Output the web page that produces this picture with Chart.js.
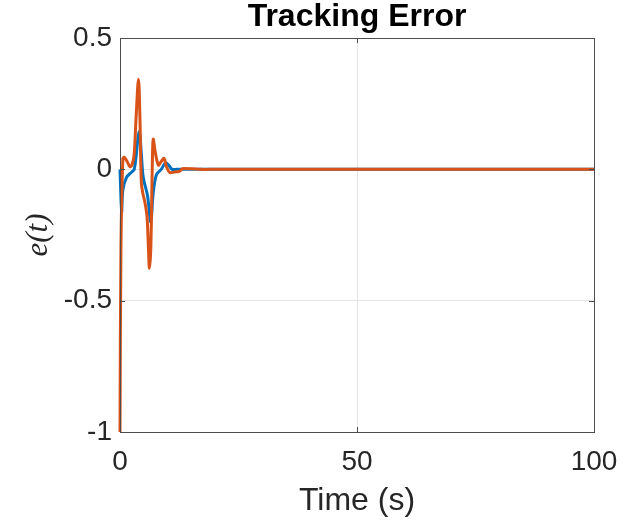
<!DOCTYPE html>
<html>
<head>
<meta charset="utf-8">
<script src="https://cdn.jsdelivr.net/npm/chart.js@4"></script>
<style>
  body { margin: 0; background: #fff; }
  #wrap { width: 635px; height: 522px; }
</style>
</head>
<body>
<div id="wrap"><canvas id="chart-1" width="635" height="522"></canvas></div>
<script>
/************************ data ******************************************************/

const tBlue = [0, 0.35, 0.6, 1.4, 2.5, 3.0, 3.4, 3.8, 4.1, 4.5, 4.9, 5.8, 6.5, 7.0, 7.7, 8.7, 9.6, 10.3, 11, 12, 20, 50, 100];
const eBlue = [0, -0.16, -0.08, -0.03, -0.01, 0.0, 0.05, 0.12, 0.143, 0.06, -0.03, -0.1, -0.2, -0.09, -0.02, 0.0, 0.025, 0.015, 0.0, 0.0, 0, 0, 0];

const tOrange = [0, 0.2, 0.6, 0.9, 1.5, 2.1, 2.6, 3.0, 3.4, 3.9, 4.2, 4.5, 4.8, 5.3, 5.7, 6.0, 6.2, 6.5, 6.8, 7.0, 7.4, 8.1, 8.7, 9.3, 9.8, 10.5, 11.5, 12.5, 13.2, 15, 17, 20, 50, 100];
const eOrange = [-1, -0.3, 0.04, 0.046, 0.03, 0.01, 0.02, 0.06, 0.2, 0.343, 0.2, -0.05, -0.09, -0.13, -0.18, -0.3, -0.377, -0.3, 0.0, 0.114, 0.07, 0.016, 0.03, 0.042, 0.01, -0.012, -0.01, -0.008, 0.002, 0.002, 0, 0, 0, 0];

const xTicks = [0, 50, 100];
const yTicks = [-1, -0.5, 0, 0.5];

const textColor = "#262626";
const sans = "'Liberation Sans', Arial, Helvetica, sans-serif";

/************************* box + inner tick marks ******************************/
const boxPlugin = {
  id: "box",
  afterDatasetsDraw(chart) {
    const { ctx, chartArea: a, scales } = chart;
    ctx.save();
    ctx.strokeStyle = "#4d4d4d";
    ctx.lineWidth = 1;
    ctx.beginPath();
    xTicks.forEach((v) => {
      const px = Math.round(scales.x.getPixelForValue(v)) + 0.5;
      ctx.moveTo(px, a.bottom); ctx.lineTo(px, a.bottom - 5);
      ctx.moveTo(px, a.top); ctx.lineTo(px, a.top + 5);
    });
    yTicks.forEach((v) => {
      const py = Math.round(scales.y.getPixelForValue(v)) + 0.5;
      ctx.moveTo(a.left, py); ctx.lineTo(a.left + 5, py);
      ctx.moveTo(a.right, py); ctx.lineTo(a.right - 5, py);
    });
    ctx.stroke();
    ctx.strokeRect(Math.round(a.left) + 0.5, Math.round(a.top) + 0.5,
      Math.round(a.right - a.left), Math.round(a.bottom - a.top));
    ctx.restore();
  },
};

/************************* CHART ******************************/
const ctx1 = document.getElementById("chart-1").getContext("2d");
const myChart1 = new Chart(ctx1, {
  type: "line",
  data: {
    datasets: [
      {
        label: "e1",
        data: tBlue.map((t, i) => ({ x: t, y: eBlue[i] })),
        borderColor: "#0072BD",
        borderWidth: 3,
        pointRadius: 0,
        tension: 0.35,
        order: 1,
      },
      {
        label: "e2",
        data: tOrange.map((t, i) => ({ x: t, y: eOrange[i] })),
        borderColor: "#D95319",
        borderWidth: 3,
        pointRadius: 0,
        tension: 0.35,
        order: 0,
      },
    ],
  },
  plugins: [boxPlugin],
  options: {
    responsive: false,
    animation: false,
    clip: false,
    layout: { padding: { left: 0, right: 41, top: 0, bottom: 0 } },
    plugins: {
      legend: { display: false },
      tooltip: { enabled: false },
      title: {
        display: true,
        fullSize: false,
        text: "Tracking Error",
        color: "#000",
        font: { family: sans, size: 32, weight: "bold", lineHeight: 1 },
        padding: { top: 1, bottom: 5 },
      },
    },
    scales: {
      x: {
        type: "linear",
        min: 0,
        max: 100,
        afterBuildTicks: (s) => { s.ticks = xTicks.map((v) => ({ value: v })); },
        afterFit: (s) => { s.height = 90; },
        grid: { color: "#e3e3e3", drawTicks: false },
        border: { display: false },
        ticks: { color: textColor, font: { family: sans, size: 28 }, padding: 13, callback: (v) => String(v) },
        title: {
          display: true,
          text: "Time (s)",
          color: textColor,
          font: { family: sans, size: 32, lineHeight: 1.2 },
          padding: { top: 0, bottom: 2 },
        },
      },
      y: {
        type: "linear",
        min: -1,
        max: 0.5,
        afterBuildTicks: (s) => { s.ticks = yTicks.map((v) => ({ value: v })); },
        afterFit: (s) => { s.width = 120; },
        grid: { color: "#e3e3e3", drawTicks: false },
        border: { display: false },
        ticks: { color: textColor, font: { family: sans, size: 28 }, padding: 8, callback: (v) => String(v) },
        title: {
          display: true,
          text: "e(t)",
          color: textColor,
          font: { family: "'Liberation Serif', 'DejaVu Serif', serif", size: 31, style: "italic", lineHeight: 1.2 },
          padding: { top: 20, bottom: 0 },
        },
      },
    },
  },
});
</script>
</body>
</html>
